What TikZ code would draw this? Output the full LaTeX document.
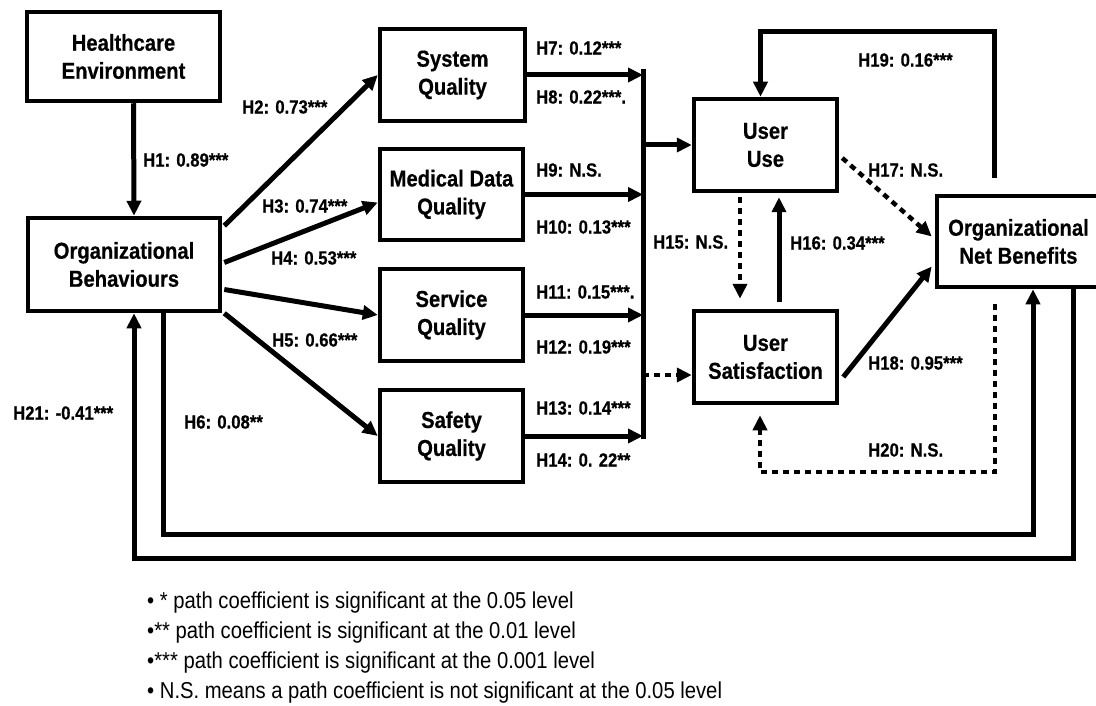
\documentclass[tikz,border=0pt]{standalone}
\usepackage{fontspec}
\setmainfont{Liberation Sans}[FakeStretch=0.88, BoldFeatures={FakeBold=0.5}]
\usetikzlibrary{arrows.meta,calc,shadows}

\tikzset{
  box/.style={draw, line width=4.5pt, fill=white, align=center, inner sep=0pt,
    font=\bfseries\fontsize{23}{28}\selectfont,
    drop shadow={shadow xshift=-1.5pt, shadow yshift=-1.5pt, fill=gray!55}},
  lab/.style={anchor=west, inner sep=0pt, font=\bfseries\fontsize{19}{22}\selectfont},
  legend/.style={anchor=west, inner sep=0pt, font=\fontsize{23}{28}\selectfont},
  conn/.style={line width=5pt, -{Triangle[length=15pt,width=14pt]}},
  dotconn/.style={conn, line width=4.5pt, dash pattern=on 6pt off 5pt},
  bus/.style={line width=5pt},
}

\begin{document}
\begin{tikzpicture}[x=1pt, y=-1pt]
\useasboundingbox (0,0) rectangle (1096,706);

% constructs
\node[box, minimum width=193pt, minimum height=89pt] (HE) at (123.5,56.5) {Healthcare\\Environment};
\node[box, minimum width=192pt, minimum height=93pt] (OB) at (124,264.5) {Organizational\\Behaviours};
\node[box, minimum width=145pt, minimum height=92pt] (SQ) at (452.5,75) {System\\Quality};
\node[box, minimum width=143pt, minimum height=91pt] (MDQ) at (451.5,194.5) {Medical Data\\Quality};
\node[box, minimum width=143pt, minimum height=92pt] (SVQ) at (451.5,315) {Service\\Quality};
\node[box, minimum width=143pt, minimum height=92pt] (SFQ) at (451.5,436) {Safety\\Quality};
\node[box, minimum width=143pt, minimum height=92pt] (UU) at (765.5,145) {User\\Use};
\node[box, minimum width=143pt, minimum height=92pt] (US) at (765.5,357) {User\\Satisfaction};
\node[box, minimum width=163pt, minimum height=91pt] (ONB) at (1018.5,241.5) {Organizational\\Net Benefits};

% collecting bus for the four quality constructs
\coordinate (busTop) at (643,69);
\coordinate (busBot) at (643,439);
\draw[bus] (busTop) -- (busBot);

% H1 - H5
\draw[conn] ([xshift=10pt]HE.south) -- ([xshift=10pt]OB.north);
\draw[conn] ($(OB.north east)+(2,10)$) -- (SQ.west);
\draw[conn] ($(OB.east)+(2,-2)$) -- ($(MDQ.west)+(0,8)$);
\draw[conn] ($(OB.east)+(2,25)$) -- (SVQ.west);
\draw[conn] ($(OB.south east)+(2,0)$) -- (SFQ.west);

% H7 - H14 into the bus
\draw[conn] (SQ.east) -- (SQ.east -| busTop);
\draw[conn] (MDQ.east) -- (MDQ.east -| busTop);
\draw[conn] (SVQ.east) -- (SVQ.east -| busTop);
\draw[conn] (SFQ.east) -- (SFQ.east -| busTop);

% bus to use and satisfaction
\draw[conn] (UU.west -| busTop) -- (UU.west);
\coordinate (usIn) at ($(US.west)+(0,18)$);
\draw[dotconn] (usIn -| busTop) -- (usIn);

% H15 - H18
\draw[dotconn] ($(UU.south)+(-25.5,4)$) -- ($(US.north)+(-25.5,-10)$);
\draw[conn] ($(US.north)+(13.5,-7)$) -- ($(UU.south)+(13.5,4)$);
\draw[dotconn] ($(UU.east)+(3,13)$) -- ($(ONB.west)+(-3,-5)$);
\draw[conn] ($(US.east)+(4,20)$) -- ($(ONB.west)+(-3,25)$);

% H19: net benefits back to use
\coordinate (h19a) at ($(ONB.north)+(-24.5,-16)$);
\coordinate (h19b) at ($(UU.north)+(-5,0)$);
\draw[conn] (h19a) |- ($(h19b)+(0,-65)$) -- (h19b);

% H20: net benefits back to satisfaction
\coordinate (h20a) at ($(ONB.south)+(-23.5,15)$);
\coordinate (h20b) at ($(US.south)+(-5.5,10)$);
\draw[dotconn, line width=4pt] (h20a) -- ++(0,168) -| (h20b);

% H6 and H21: loops under the model
\coordinate (h6a) at ($(OB.south)+(39,0)$);
\coordinate (h6b) at ($(ONB.south)+(14.5,0)$);
\draw[conn] (h6a) |- ($(h6b)+(0,245)$) -- (h6b);
\coordinate (h21a) at ($(ONB.south)+(54.5,0)$);
\coordinate (h21b) at ($(OB.south)+(10,0)$);
\draw[conn] (h21a) |- ($(h21b)+(0,245)$) -- (h21b);

% path coefficients
\node[lab] (l1) at (143,160) {H1: 0.89***};
\node[lab] (l2) at (242,107) {H2: 0.73***};
\node[lab] (l3) at (262,206) {H3: 0.74***};
\node[lab] (l4) at (271,258) {H4: 0.53***};
\node[lab] (l5) at (272,340) {H5: 0.66***};
\node[lab] (l6) at (184,422) {H6: 0.08**};
\node[lab] (l7) at (536,48) {H7: 0.12***};
\node[lab] (l8) at (536,97) {H8: 0.22***.};
\node[lab] (l9) at (536,170) {H9: N.S.};
\node[lab] (l10) at (536,227) {H10: 0.13***};
\node[lab] (l11) at (536,292) {H11: 0.15***.};
\node[lab] (l12) at (536,347) {H12: 0.19***};
\node[lab] (l13) at (536,408) {H13: 0.14***};
\node[lab] (l14) at (536,460) {H14: 0. 22**};
\node[lab] (l15) at (653,242) {H15: N.S.};
\node[lab] (l16) at (790,243) {H16: 0.34***};
\node[lab] (l17) at (868,170) {H17: N.S.};
\node[lab] (l18) at (868,363) {H18: 0.95***};
\node[lab] (l19) at (858,60) {H19: 0.16***};
\node[lab] (l20) at (868,450) {H20: N.S.};
\node[lab] (l21) at (13,413) {H21: -0.41***};

% significance notes
\node[legend] (n1) at (147,603) {• * path coefficient is significant at the 0.05 level};
\node[legend] (n2) at (147,633) {•** path coefficient is significant at the 0.01 level};
\node[legend] (n3) at (147,663) {•*** path coefficient is significant at the 0.001 level};
\node[legend] (n4) at (147,693) {• N.S. means a path coefficient is not significant at the 0.05 level};
\end{tikzpicture}
\end{document}
